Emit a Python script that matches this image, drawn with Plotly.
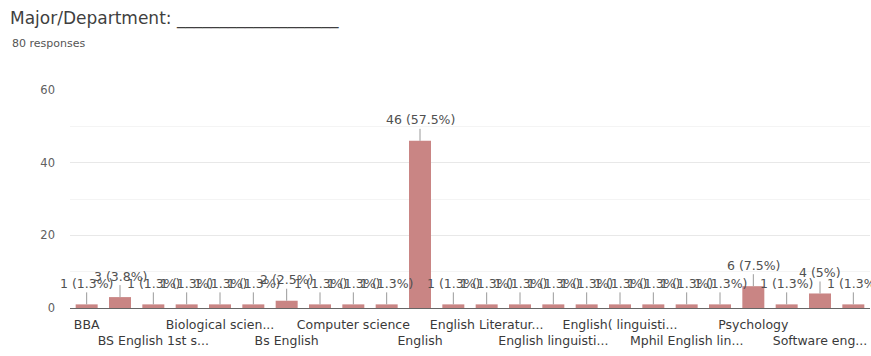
import math
import plotly.graph_objects as go

# ---- data ----
categories = [
    "BBA", "BS English", "BS English 1st semester", "BS Psychology",
    "Biological science", "Biology", "Bs English", "Bs English literature",
    "Computer science", "Economics", "English", "English ",
    "English Literature and Linguistics", "English lang", "English linguistics",
    "English literature", "English( linguistics)", "Islamic studies",
    "Mphil English linguistics", "Physics", "Psychology", "Sociology",
    "Software engineering", "Statistics",
]
counts = [1, 3, 1, 1, 1, 1, 2, 1, 1, 1, 46, 1, 1, 1, 1, 1, 1, 1, 1, 1, 6, 1, 4, 1]
total_responses = 80

tick_positions = [0, 2, 4, 6, 8, 10, 12, 14, 16, 18, 20, 22]
tick_labels = [
    "BBA", "BS English 1st s...", "Biological scien...", "Bs English",
    "Computer science", "English", "English Literatur...", "English linguisti...",
    "English( linguisti...", "Mphil English lin...", "Psychology", "Software eng...",
]
y_ticks = [0, 20, 40, 60]

title_text = "Major/Department: ___________________"
subtitle_text = "80 responses"

FONT = "DejaVu Sans, Verdana, sans-serif"

# ---- figure ----
x_idx = list(range(len(categories)))

def pct_label(v):
    p = math.floor(v / total_responses * 1000 + 0.5) / 10
    s = f"{p:.1f}"
    if s.endswith(".0"):
        s = s[:-2]
    return f"{v} ({s}%)"

fig = go.Figure()
fig.add_trace(go.Bar(
    x=x_idx, y=counts,
    marker=dict(color="#c98584", line=dict(width=0)),
    hovertext=categories,
    width=0.66,
))

annotations = []
for xi, v in zip(x_idx, counts):
    annotations.append(dict(
        x=xi, y=v, xref="x", yref="y",
        text=pct_label(v),
        showarrow=True, arrowhead=0, arrowwidth=1, arrowcolor="#9a9a9a",
        ax=0, ay=-21,
        font=dict(family=FONT, size=12.5, color="#505050"),
    ))

annotations.append(dict(
    x=-60 / 800, y=1 + (90 - 44) / 218, xref="paper", yref="paper",
    text=subtitle_text,
    showarrow=False, xanchor="left", yanchor="middle",
    font=dict(family=FONT, size=11, color="#555555"),
))

disp_labels = [t if i % 2 == 0 else "<br>" + t for i, t in enumerate(tick_labels)]

fig.update_layout(
    width=871, height=356,
    margin=dict(l=70, r=1, t=90, b=48),
    paper_bgcolor="white", plot_bgcolor="white",
    showlegend=False,
    title=dict(
        text=title_text, x=10 / 871, xanchor="left",
        y=1 - 18 / 356, yanchor="middle", xref="container", yref="container",
        font=dict(family=FONT, size=17, color="#3f3f3f"),
    ),
    xaxis=dict(
        range=[-0.5, len(categories) - 0.5],
        tickmode="array", tickvals=tick_positions, ticktext=disp_labels,
        tickfont=dict(family=FONT, size=12.5, color="#3a3a3a"),
        showgrid=False, ticks="", showline=False, zeroline=False,
        tickangle=0, ticklabelstandoff=7,
    ),
    yaxis=dict(
        range=[0, 60], tickmode="array", tickvals=y_ticks,
        tickfont=dict(family=FONT, size=11.5, color="#606060"),
        showgrid=True, gridcolor="#e8e8e8", gridwidth=1,
        zeroline=True, zerolinecolor="#666666", zerolinewidth=1,
        ticks="", ticklabelstandoff=14,
        minor=dict(dtick=10, showgrid=True, gridcolor="#f4f4f4", gridwidth=1),
    ),
    annotations=annotations,
)

fig.write_html("out.html")
